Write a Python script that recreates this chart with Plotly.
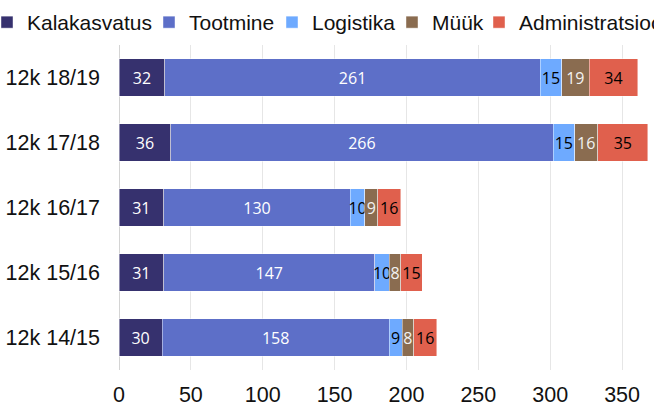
import plotly.graph_objects as go

categories = ["12k 18/19", "12k 17/18", "12k 16/17", "12k 15/16", "12k 14/15"]
series_names = ["Kalakasvatus", "Tootmine", "Logistika", "Müük", "Administratsioon"]
kalakasvatus = [32, 36, 31, 31, 30]
tootmine = [261, 266, 130, 147, 158]
logistika = [15, 15, 10, 10, 9]
muuk = [19, 16, 9, 8, 8]
administratsioon = [34, 35, 16, 15, 16]
x_ticks = [0, 50, 100, 150, 200, 250, 300, 350]

values = [kalakasvatus, tootmine, logistika, muuk, administratsioon]
colors = ["#36316e", "#5d6fc8", "#6eaaff", "#8a6c50", "#e0604d"]
text_colors = ["white", "white", "black", "#f2f2f2", "black"]
legend_widths = [130, 91, 88, 55, 130]

fig = go.Figure()
for name, vals, col, tcol, lw in zip(series_names, values, colors, text_colors, legend_widths):
    fig.add_trace(go.Bar(
        y=categories, x=vals, name=name, orientation="h",
        marker=dict(color=col, line=dict(color="rgba(255,255,255,0.55)", width=0.8)),
        text=[str(v) for v in vals], textposition="inside", insidetextanchor="middle",
        textfont=dict(family="Open Sans", size=16, color=tcol),
        legendwidth=lw,
    ))

plot_l, plot_t, plot_w, plot_h = 119, 45, 539, 325

fig.update_layout(
    width=660, height=405,
    barmode="stack", bargap=0.43,
    margin=dict(l=plot_l, r=2, t=plot_t, b=35, autoexpand=False),
    paper_bgcolor="white", plot_bgcolor="white",
    font=dict(family="Liberation Sans", size=21, color="#111"),
    uniformtext=dict(minsize=16, mode="show"),
    showlegend=True,
    legend=dict(orientation="h", xref="paper", yref="paper",
                x=-plot_l / plot_w, xanchor="left",
                y=1 + (plot_t - 2) / plot_h, yanchor="top",
                indentation=-13,
                bgcolor="rgba(0,0,0,0)",
                font=dict(family="Liberation Sans", size=21, color="#111"),
                traceorder="normal", itemclick=False),
    xaxis=dict(range=[0, 375], tickvals=x_ticks, showgrid=True, gridcolor="#e6e6e6",
               gridwidth=1, zeroline=True, zerolinecolor="#d4d4d4", zerolinewidth=1,
               showline=False, tickfont=dict(size=21.5), ticklabelstandoff=9,
               fixedrange=True, automargin=False),
    yaxis=dict(autorange="reversed", showgrid=False, showline=False, automargin=False,
               tickfont=dict(size=21.5), ticklabelstandoff=18, fixedrange=True),
)

fig.write_html("out.html", config={"displayModeBar": False},
               post_script="document.body.style.margin='0';")
